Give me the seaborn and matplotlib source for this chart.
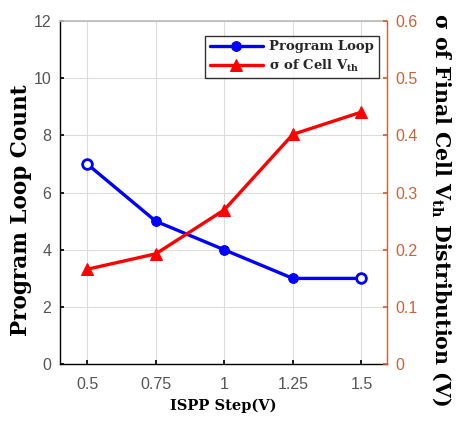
import pandas as pd
import seaborn as sns
import matplotlib.pyplot as plt

# values
steps = ['0.5', '0.75', '1', '1.25', '1.5']
loop_count = [7, 5, 4, 3, 3]
sigma_vth = [0.166, 0.193, 0.27, 0.402, 0.441]

df = pd.DataFrame({'step': steps, 'loops': loop_count, 'sigma': sigma_vth})

sns.set_theme(style="whitegrid")
plt.rcParams['font.family'] = ['Liberation Sans', 'DejaVu Sans']
plt.rcParams['mathtext.fontset'] = 'custom'
plt.rcParams['mathtext.rm'] = 'DejaVu Serif'
plt.rcParams['mathtext.bf'] = 'DejaVu Serif:bold'

blue = "#0000ff"
red = "#ff0000"
brown = "#c8643c"
tick_gray = "#555555"
serif = ['DejaVu Serif']

fig = plt.figure(figsize=(4.6, 4.22), dpi=100)
ax = fig.add_axes([0.130, 0.137, 0.711, 0.813])
ax2 = ax.twinx()

sns.lineplot(data=df, x='step', y='loops', ax=ax, color=blue, lw=2.4, sort=False,
             marker='o', markersize=7, markeredgecolor=blue, label='Program Loop', legend=False)
# end points drawn as open circles like the original
ends = df.iloc[[0, -1]]
ax.plot(ends['step'], ends['loops'], ls='none', marker='o', markersize=7,
        markerfacecolor='white', markeredgecolor=blue, markeredgewidth=2)

sns.lineplot(data=df, x='step', y='sigma', ax=ax2, color=red, lw=2.4, sort=False,
             marker='^', markersize=9, markeredgecolor=red, label='σ of Cell V$_{\\mathbf{th}}$', legend=False)

ax.set_xlim(-0.4, 4.37)
ax.set_ylim(0, 12)
ax.set_yticks(range(0, 13, 2))
ax2.set_ylim(0, 0.6)
ax2.set_yticks([0, 0.1, 0.2, 0.3, 0.4, 0.5, 0.6])
ax2.set_yticklabels(['0', '0.1', '0.2', '0.3', '0.4', '0.5', '0.6'])
ax2.grid(False)
ax.grid(True, color='#dcdcdc', lw=0.8)

ax.set_xlabel('ISPP Step(V)', family=serif, fontweight='bold', fontsize=10.5, labelpad=5, color='black')
ax.set_ylabel('Program Loop Count', family=serif, fontweight='bold', fontsize=15.5, color='black',
              va='center', ha='center')
ax2.set_ylabel('σ of Final Cell V$_{\\mathbf{th}}$ Distribution (V)', family=serif, fontweight='bold',
               fontsize=14.8, rotation=-90, color='black', va='center', ha='center')
ax.yaxis.set_label_coords(-0.118, 0.45)
ax2.yaxis.set_label_coords(1.163, 0.45)

ax.tick_params(axis='both', labelsize=11.5, labelcolor=tick_gray, direction='in', length=3,
               color='black', left=True, bottom=True)
ax.tick_params(axis='x', pad=9)
ax.tick_params(axis='y', pad=6)
ax2.tick_params(axis='y', labelsize=11.5, labelcolor=brown, direction='in', length=3, color=brown,
                right=True, pad=6)

for s in ['left', 'bottom']:
    ax.spines[s].set_color('black')
    ax.spines[s].set_linewidth(1.0)
ax.spines['top'].set_color('#bbbbbb')
ax.spines['right'].set_visible(False)
ax2.spines['right'].set_color(brown)
ax2.spines['right'].set_linewidth(1.0)
ax2.spines['top'].set_visible(False)
ax2.spines['left'].set_visible(False)
ax2.spines['bottom'].set_visible(False)

h1, l1 = ax.get_legend_handles_labels()
h2, l2 = ax2.get_legend_handles_labels()
leg = ax2.legend(h1[:1] + h2, l1[:1] + l2, loc='upper right', bbox_to_anchor=(0.975, 0.957),
                 prop={'family': serif, 'weight': 'bold', 'size': 9.5}, frameon=True, fancybox=False,
                 handlelength=4.0, borderpad=0.35, labelspacing=0.3, handletextpad=0.5, borderaxespad=0)
leg.get_frame().set_edgecolor('black')
leg.get_frame().set_linewidth(1.0)

fig.savefig('out.png', dpi=100)
